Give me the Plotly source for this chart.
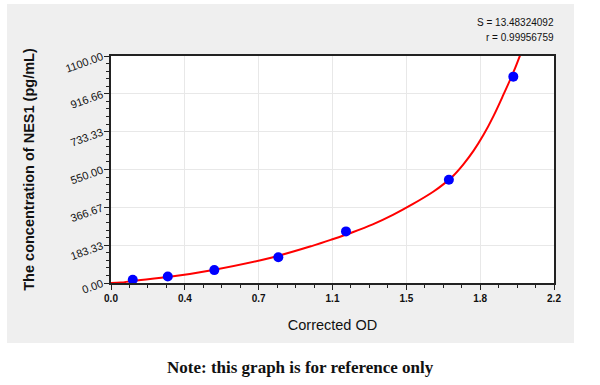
import plotly.graph_objects as go

# Standard points (Corrected OD vs concentration)
od_points = [0.108, 0.282, 0.513, 0.831, 1.167, 1.678, 1.998]
conc_points = [15.6, 31.25, 62.5, 125, 250, 500, 1000]

# Fitted curve
curve_od = [0.0, 0.05, 0.1, 0.3, 0.5, 0.8, 1.0, 1.1, 1.2, 1.3, 1.4, 1.5, 1.6, 1.65, 1.7,
            1.75, 1.8, 1.85, 1.9, 1.95, 2.0, 2.04]
curve_conc = [0, 2, 9, 31, 62, 124, 180, 212, 246, 284, 330, 383, 442, 478, 520,
              575, 640, 718, 810, 915, 1025, 1125]

x_tickvals = [0, 0.36667, 0.73333, 1.1, 1.46667, 1.83333, 2.2]
x_ticktext = ["0.0", "0.4", "0.7", "1.1", "1.5", "1.8", "2.2"]
y_tickvals = [0, 183.333, 366.667, 550, 733.333, 916.667, 1100]
y_ticktext = ["0.00", "183.33", "366.67", "550.00", "733.33", "916.66", "1100.00"]

fig = go.Figure()
fig.add_trace(go.Scatter(x=curve_od, y=curve_conc, mode="lines",
                         line=dict(color="#ff0000", width=2, shape="spline", smoothing=1.0),
                         cliponaxis=False, hoverinfo="skip"))
fig.add_trace(go.Scatter(x=od_points, y=conc_points, mode="markers",
                         marker=dict(color="#0000ff", size=10, line=dict(width=0)),
                         cliponaxis=False))

fig.update_layout(
    width=600, height=385,
    margin=dict(l=111, r=46, t=56, b=102),
    paper_bgcolor="white", plot_bgcolor="white",
    showlegend=False,
    font=dict(family="Arial, Liberation Sans, sans-serif", color="#111111"),
    shapes=[dict(type="rect", xref="paper", yref="paper",
                 x0=-104/443, x1=463/443, y0=-60/227, y1=1 + 52/227,
                 fillcolor="#efefef", line=dict(width=0), layer="below"),
            dict(type="rect", xref="paper", yref="paper",
                 x0=0, x1=1, y0=0, y1=1,
                 fillcolor="white", line=dict(width=0), layer="below")],
    annotations=[
        dict(text="S = 13.48324092", xref="paper", yref="paper", x=1.005, y=1 + 33/227,
             xanchor="right", yanchor="middle", showarrow=False,
             font=dict(size=10, color="#111111")),
        dict(text="r = 0.99956759", xref="paper", yref="paper", x=1.005, y=1 + 19/227,
             xanchor="right", yanchor="middle", showarrow=False,
             font=dict(size=10, color="#111111")),
        dict(text="<b>Note: this graph is for reference only</b>", xref="paper", yref="paper",
             x=189/443, y=-84/227, xanchor="center", yanchor="middle", showarrow=False,
             font=dict(family="Liberation Serif, serif", size=17, color="#111111")),
    ],
)

fig.update_xaxes(range=[0, 2.2], tickmode="array", tickvals=x_tickvals,
                 ticktext=[f"<b>{t}</b>" for t in x_ticktext], automargin=False,
                 showline=True, linecolor="#222222", linewidth=1.5, mirror=True,
                 ticks="outside", ticklen=5, tickcolor="#222222",
                 showgrid=True, gridcolor="#e8e8e8", gridwidth=1, zeroline=False,
                 tickfont=dict(size=10, color="#111111"),
                 minor=dict(tickmode="linear", tick0=0, dtick=2.2 / 24, ticks="outside",
                            ticklen=3, tickcolor="#222222", showgrid=False),
                 title=dict(text="Corrected OD", font=dict(size=14.5, color="#111111"), standoff=17))

fig.update_yaxes(range=[0, 1100], tickmode="array", tickvals=y_tickvals, ticktext=y_ticktext,
                 automargin=False,
                 showline=True, linecolor="#222222", linewidth=1.5, mirror=True,
                 ticks="outside", ticklen=5, tickcolor="#222222", tickangle=-20,
                 showgrid=True, gridcolor="#e8e8e8", gridwidth=1, zeroline=False,
                 tickfont=dict(size=11, color="#111111"),
                 minor=dict(tickmode="linear", tick0=0, dtick=1100 / 30, ticks="outside",
                            ticklen=3, tickcolor="#222222", showgrid=False),
                 title=dict(text="<b>The concentration of NES1 (pg/mL)</b>",
                            font=dict(size=14.5, color="#111111"), standoff=26))

fig.write_html("out.html", config={"displayModeBar": False},
               post_script="document.body.style.margin='0';")
